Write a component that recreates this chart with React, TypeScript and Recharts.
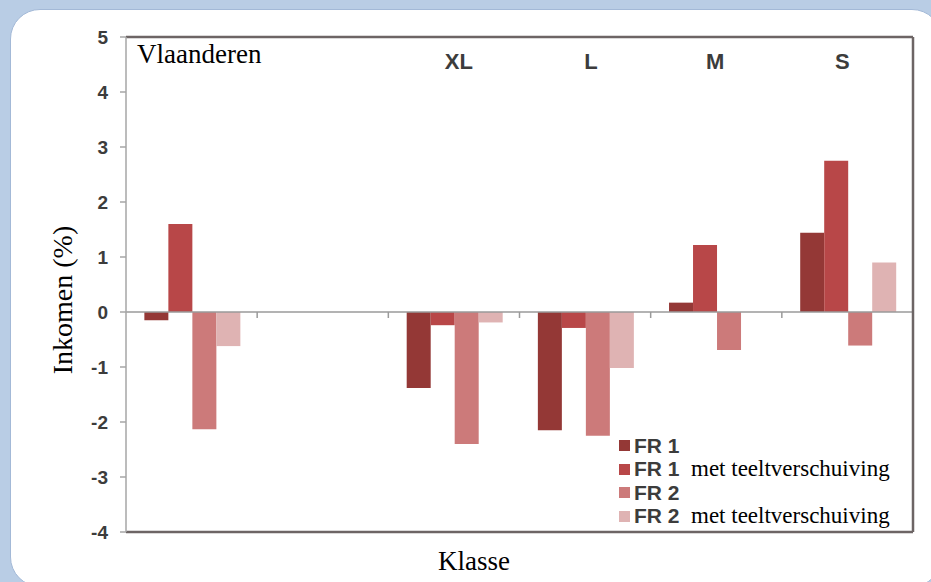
import React from 'react';
import { BarChart, Bar, XAxis, YAxis, ReferenceLine, Legend } from 'recharts';

// Inkomensverandering per klasse (%)
const categories = ['Vlaanderen', '', 'XL', 'L', 'M', 'S'];
const fr1 = [-0.15, null, -1.38, -2.15, 0.17, 1.44];
const fr1Shift = [1.6, null, -0.24, -0.29, 1.22, 2.75];
const fr2 = [-2.13, null, -2.4, -2.25, -0.69, -0.61];
const fr2Shift = [-0.62, null, -0.19, -1.02, 0, 0.9];
const yTicks = [-4, -3, -2, -1, 0, 1, 2, 3, 4, 5];

const series = [
  { key: 'fr1', label: 'FR 1', extra: '', color: '#943836' },
  { key: 'fr1Shift', label: 'FR 1', extra: 'met teeltverschuiving', color: '#b84748' },
  { key: 'fr2', label: 'FR 2', extra: '', color: '#cc7a7a' },
  { key: 'fr2Shift', label: 'FR 2', extra: 'met teeltverschuiving', color: '#dfb3b3' },
];

const data = categories.map((name, i) => ({
  name,
  fr1: fr1[i],
  fr1Shift: fr1Shift[i],
  fr2: fr2[i],
  fr2Shift: fr2Shift[i],
}));

const W = 931;
const H = 582;
// plot area: x 126..913, y 37..532 (axes of 1px eat into the margins)
const M = { top: 36, right: 17, bottom: 49, left: 66 };
const PLOT_LEFT = 126;
const PLOT_TOP = 37;
const PLOT_W = 913 - PLOT_LEFT;
const PLOT_H = 532 - PLOT_TOP;
const BAND = PLOT_W / categories.length;
const ZERO_Y = PLOT_TOP + (5 / 9) * PLOT_H;
// the class labels were placed by hand in the original, not exactly centred
const LABEL_SHIFT = [0, 0, 5, 6, -1, -5];

const SANS = '"Liberation Sans", Arial, sans-serif';
const SERIF = '"Liberation Serif", "Times New Roman", serif';
const FRAME = '#6d6565';

const CategoryTick = (props: any) => {
  const { x, payload, index } = props;
  const value = payload.value;
  return (
    <g>
      {index < categories.length - 1 && (
        <line x1={x + BAND / 2} x2={x + BAND / 2} y1={ZERO_Y} y2={ZERO_Y + 6} stroke="#9a9a9a" strokeWidth={1.5} />
      )}
      {index === 0 ? (
        <text x={PLOT_LEFT + 11} y={63} fontFamily={SERIF} fontSize={27} fill="#000">
          {value}
        </text>
      ) : (
        <text
          x={x + LABEL_SHIFT[index]}
          y={69}
          textAnchor="middle"
          fontFamily={SANS}
          fontWeight="bold"
          fontSize={22}
          fill="#3c3c3c"
        >
          {value}
        </text>
      )}
    </g>
  );
};

const LegendBox = () => (
  <div>
    {series.map((s) => (
      <div key={s.key} style={{ display: 'flex', alignItems: 'center', height: 23.5, whiteSpace: 'nowrap' }}>
        <span style={{ width: 11, height: 11, background: s.color, display: 'inline-block', marginRight: 4 }} />
        <span style={{ fontFamily: SANS, fontWeight: 'bold', fontSize: 21, color: '#3c3c3c', width: 57 }}>{s.label}</span>
        <span style={{ fontFamily: SERIF, fontSize: 23, color: '#000' }}>{s.extra}</span>
      </div>
    ))}
  </div>
);

export default function App() {
  return (
    <div style={{ position: 'absolute', left: 0, top: 0, width: W, height: H, background: '#b9cde5', overflow: 'hidden' }}>
      <div
        style={{
          position: 'absolute',
          left: 10,
          top: 9,
          width: 930,
          height: 576,
          borderRadius: 30,
          background: '#fff',
          border: '1px solid #a3b9d7',
        }}
      />
      <div style={{ position: 'absolute', left: 0, top: 0 }}>
        <BarChart width={W} height={H} data={data} margin={M} barGap={0} barCategoryGap="14%">
          <XAxis
            dataKey="name"
            height={1}
            interval={0}
            axisLine={{ stroke: FRAME, strokeWidth: 2.5 }}
            tickLine={false}
            tick={<CategoryTick />}
          />
          <XAxis
            xAxisId="top"
            dataKey="name"
            orientation="top"
            height={1}
            tick={false}
            tickLine={false}
            axisLine={{ stroke: FRAME, strokeWidth: 2.5 }}
          />
          <YAxis
            width={60}
            domain={[-4, 5]}
            ticks={yTicks}
            interval={0}
            axisLine={{ stroke: '#a6a6a6', strokeWidth: 1.5 }}
            tickLine={{ stroke: '#a6a6a6', strokeWidth: 1.5 }}
            tickSize={6}
            tickMargin={12}
            tick={{ fontFamily: SANS, fontWeight: 'bold', fontSize: 19, fill: '#3c3c3c' }}
            label={{
              content: () => (
                <text
                  x={62}
                  y={300}
                  textAnchor="middle"
                  dominantBaseline="central"
                  transform="rotate(-90, 62, 300)"
                  fontFamily={SERIF}
                  fontSize={28}
                  fill="#000"
                >
                  Inkomen (%)
                </text>
              ),
            }}
          />
          <YAxis
            yAxisId="right"
            orientation="right"
            width={1}
            domain={[-4, 5]}
            tick={false}
            tickLine={false}
            axisLine={{ stroke: FRAME, strokeWidth: 2.5 }}
          />
          <ReferenceLine y={0} stroke="#9a9a9a" strokeWidth={1.5} />
          {series.map((s) => (
            <Bar key={s.key} dataKey={s.key} name={s.label} fill={s.color} isAnimationActive={false} />
          ))}
          <Legend
            layout="vertical"
            align="center"
            verticalAlign="middle"
            content={<LegendBox />}
            wrapperStyle={{ left: 619, top: 434, width: 290, height: 'auto' }}
          />
        </BarChart>
        <div
          style={{
            position: 'absolute',
            left: 0,
            top: 546,
            width: 2 * 474,
            textAlign: 'center',
            fontFamily: SERIF,
            fontSize: 27,
            color: '#000',
          }}
        >
          Klasse
        </div>
      </div>
    </div>
  );
}
